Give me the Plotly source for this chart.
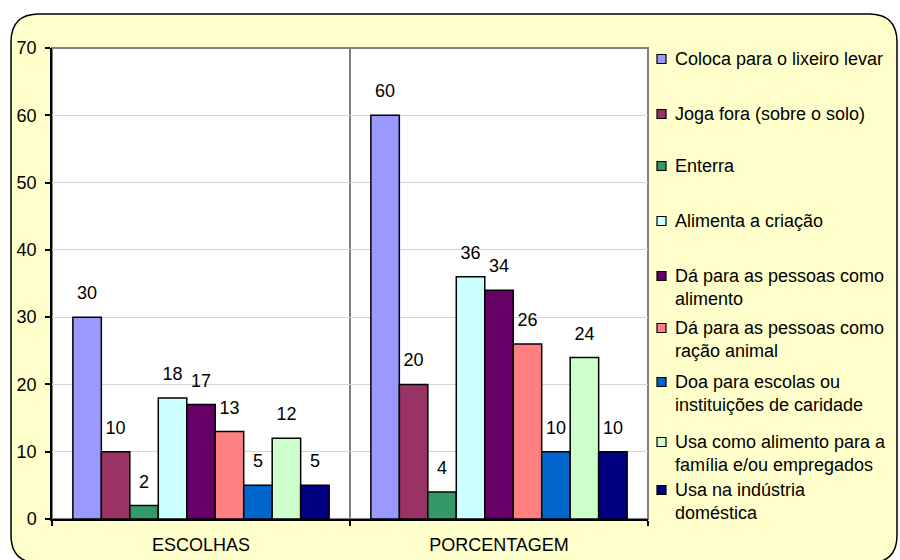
import plotly.graph_objects as go

categories = ["ESCOLHAS", "PORCENTAGEM"]
series_names = [
    "Coloca para o lixeiro levar",
    "Joga fora (sobre o solo)",
    "Enterra",
    "Alimenta a criação",
    "Dá para as pessoas como<br>alimento",
    "Dá para as pessoas como<br>ração animal",
    "Doa para escolas ou<br>instituições de caridade",
    "Usa como alimento para a<br>família e/ou empregados",
    "Usa na indústria<br>doméstica",
]
escolhas = [30, 10, 2, 18, 17, 13, 5, 12, 5]
porcentagem = [60, 20, 4, 36, 34, 26, 10, 24, 10]
colors = ["#9999FF", "#993366", "#339966", "#CCFFFF", "#660066",
          "#FF8080", "#0066CC", "#CCFFCC", "#000080"]
y_ticks = [0, 10, 20, 30, 40, 50, 60, 70]

FONT = "Liberation Sans, Arial, sans-serif"
FS = 18
W, H = 900, 560
PL, PR, PT, PB = 52, 648, 48, 519


def px(x):
    return (x - PL) / (PR - PL)


def py(y):
    return (PB - y) / (PB - PT)


fig = go.Figure()
for i, name in enumerate(series_names):
    vals = [escolhas[i], porcentagem[i]]
    fig.add_trace(go.Bar(
        x=categories, y=vals, name=name,
        marker=dict(color=colors[i], line=dict(color="black", width=1.5)),
        showlegend=False, hoverinfo="skip",
    ))
for i, name in enumerate(series_names):
    vals = [escolhas[i], porcentagem[i]]
    fig.add_trace(go.Scatter(
        x=categories, y=vals, mode="markers+text",
        text=[str(v) for v in vals], textposition="top center",
        textfont=dict(size=FS, color="black", family=FONT),
        marker=dict(size=20, opacity=0),
        showlegend=False, hoverinfo="skip", cliponaxis=False,
    ))

# outer rounded frame
x0, y0, x1, y1, r = 11, 14, 897, 563, 28
path = (
    f"M {px(x0 + r)} {py(y0)} L {px(x1 - r)} {py(y0)} "
    f"Q {px(x1)} {py(y0)} {px(x1)} {py(y0 + r)} "
    f"L {px(x1)} {py(y1 - r)} Q {px(x1)} {py(y1)} {px(x1 - r)} {py(y1)} "
    f"L {px(x0 + r)} {py(y1)} Q {px(x0)} {py(y1)} {px(x0)} {py(y1 - r)} "
    f"L {px(x0)} {py(y0 + r)} Q {px(x0)} {py(y0)} {px(x0 + r)} {py(y0)} Z"
)
shapes = [
    dict(type="path", path=path, xref="paper", yref="paper", layer="below",
         fillcolor="#FFFFCC", line=dict(color="black", width=1.5)),
    dict(type="rect", xref="paper", yref="paper", x0=0, x1=1, y0=0, y1=1,
         layer="below", fillcolor="white", line=dict(color="#808080", width=2)),
]

# manual legend
legend_y = [59, 114, 166, 221, 276, 328, 382, 442, 490]
annotations = []
for i, name in enumerate(series_names):
    cy = legend_y[i]
    shapes.append(dict(type="rect", xref="paper", yref="paper",
                       x0=px(657), x1=px(666), y0=py(cy + 4.5), y1=py(cy - 4.5),
                       fillcolor=colors[i], line=dict(color="black", width=1.2),
                       layer="above"))
    nlines = name.count("<br>") + 1
    mid = cy + (nlines - 1) * 11.7
    annotations.append(dict(text=name, xref="paper", yref="paper",
                            x=px(673), y=py(mid), xanchor="left", yanchor="middle",
                            align="left", showarrow=False,
                            font=dict(size=FS, color="black", family=FONT)))

fig.update_layout(
    width=W, height=H,
    margin=dict(l=PL, r=W - PR, t=PT, b=H - PB, autoexpand=False),
    paper_bgcolor="white", plot_bgcolor="white",
    barmode="group", bargap=0.14, bargroupgap=0,
    scattermode="group", scattergap=0.14,
    font=dict(family=FONT, size=FS, color="black"),
    shapes=shapes, annotations=annotations,
    showlegend=False,
    xaxis=dict(type="category", tickson="boundaries", ticks="outside", ticklen=5,
               tickcolor="black", tickwidth=1.5, automargin=False,
               showgrid=True, gridcolor="#808080", gridwidth=1.5,
               showline=True, linecolor="black", linewidth=1.5,
               tickfont=dict(size=FS, family=FONT), ticklabelstandoff=9),
    yaxis=dict(range=[0, 70], tickvals=y_ticks, ticks="outside", ticklen=5,
               tickcolor="black", tickwidth=1.5, automargin=False,
               showgrid=True, gridcolor="#D4D4D4", gridwidth=1,
               zeroline=False, showline=True, linecolor="black", linewidth=1.5,
               tickfont=dict(size=FS, family=FONT), ticklabelstandoff=5),
)

fig.write_html("out.html",
               config={"displayModeBar": False},
               post_script="document.body.style.margin='0';document.body.style.overflow='hidden';")
